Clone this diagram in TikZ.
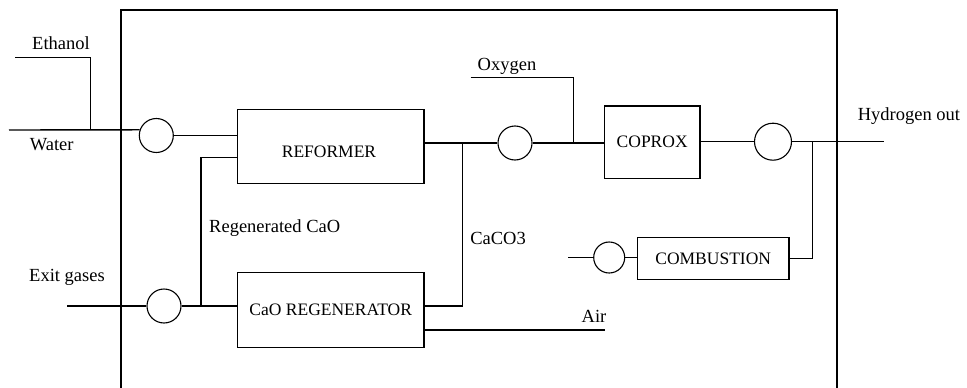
\documentclass[tikz,border=0pt]{standalone}
\usepackage{fontspec}
\setmainfont{Liberation Serif}
\begin{document}
\begin{tikzpicture}[x=1pt,y=-1pt,
  line/.style={line width=1.4pt},
  box/.style={draw,line width=1.5pt,rectangle,inner sep=0pt,font=\fontsize{17.5}{20}\selectfont},
  boxtext/.style={inner sep=0pt,font=\fontsize{17.5}{20}\selectfont},
  valve/.style={draw,circle,line width=1.1pt,inner sep=0pt},
  lbl/.style={inner sep=0pt,font=\fontsize{18.5}{21}\selectfont}]
\useasboundingbox (0,0) rectangle (967,388);
% frame
\draw[line] (121,388) -- (121,10) -- (837,10) -- (837,388);
% units
\node[box,minimum width=186.7pt,minimum height=74pt] (ref) at (330.7,146.3) {};
\node[boxtext] (reftxt) at (329,151.7) {REFORMER};
\node[box,minimum width=186.7pt,minimum height=75pt] (regen) at (330.7,309.8) {CaO REGENERATOR};
\node[box,minimum width=95.7pt,minimum height=72.3pt] (coprox) at (652.2,142.2) {COPROX};
\node[box,minimum width=151.7pt,minimum height=42pt] (comb) at (713.2,258.3) {COMBUSTION};
% valves
\node[valve,minimum size=34pt] (c1) at (156.3,135.5) {};
\node[valve,minimum size=34pt] (c2) at (164,306) {};
\node[valve,minimum size=34pt] (c3) at (515,143) {};
\node[valve,minimum size=37pt] (c4) at (773,141.7) {};
\node[valve,minimum size=31pt] (c5) at (609.2,257.5) {};
% coordinates
\coordinate (eth) at (15,57.3);
\coordinate (ethj) at (90.3,130);
\coordinate (win) at (9,130);
\coordinate (rj) at (201,306);
\coordinate (exin) at (67,306);
\coordinate (cj) at (462.3,143);
\coordinate (airend) at (605,330);
\coordinate (oxs) at (470.7,77.3);
\coordinate (oxj) at (573.3,143);
\coordinate (hout) at (884,141.7);
\coordinate (hj) at (812.5,141.7);
\coordinate (cin) at (568.3,257.5);
% connectors
\draw[line] (eth) -- (ethj |- eth) -- (ethj);
\draw[line] (win) -- (c1.161);
\draw[line] (c1.east) -- (c1.east -| ref.west);
\draw[line] (ref.west |- 0,157.3) -- (rj |- 0,157.3) -- (rj);
\draw[line] (exin) -- (c2.west);
\draw[line] (c2.east) -- (c2.east -| regen.west);
\draw[line] (ref.east |- c3.west) -- (c3.west);
\draw[line] (regen.east |- rj) -- (cj |- rj) -- (cj);
\draw[line] (regen.east |- airend) -- (airend);
\draw[line] (c3.east) -- (c3.east -| coprox.west);
\draw[line] (oxs) -- (oxj |- oxs) -- (oxj);
\draw[line] (coprox.east |- c4.west) -- (c4.west);
\draw[line] (c4.east) -- (hout);
\draw[line] (hj) -- (hj |- comb.east) -- (comb.east);
\draw[line] (cin) -- (c5.west);
\draw[line] (c5.east) -- (c5.east -| comb.west);
% labels
\node[lbl] (lEth) at (61,43) {Ethanol};
\node[lbl] (lWat) at (51.7,145) {Water};
\node[lbl] (lExit) at (67,277) {Exit gases};
\node[lbl] (lReg) at (274.7,228) {Regenerated CaO};
\node[lbl] (lCa) at (498,238.3) {CaCO3};
\node[lbl] (lOx) at (507,66) {Oxygen};
\node[lbl] (lAir) at (594,316.7) {Air};
\node[lbl] (lH) at (909,116) {Hydrogen out};
\end{tikzpicture}
\end{document}
